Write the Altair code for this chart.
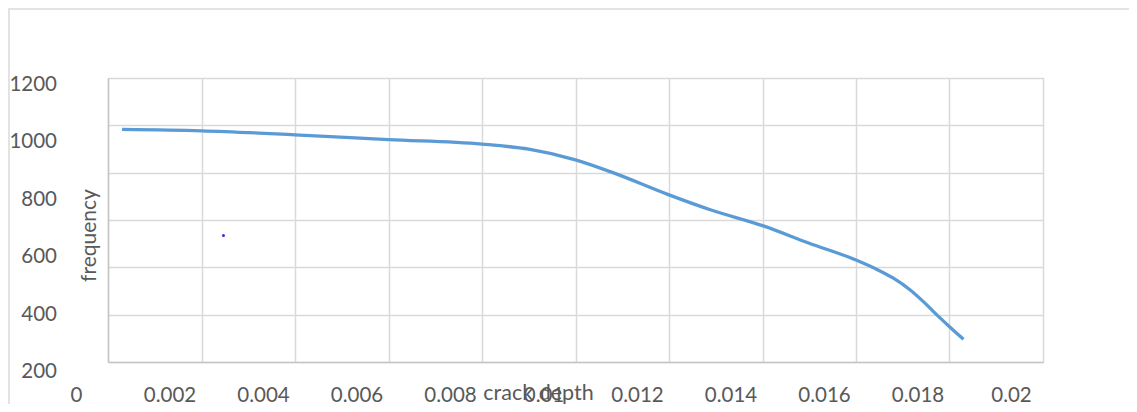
import altair as alt
import pandas as pd

# Series
crack_depth = [0.0003, 0.002, 0.004, 0.006, 0.008, 0.009, 0.010, 0.0108, 0.012,
               0.0129, 0.014, 0.015, 0.016, 0.01644, 0.0168, 0.01716, 0.01744,
               0.01773, 0.018, 0.0183]
frequency = [983, 977, 960, 940, 921, 899, 854, 800, 706,
             642, 576, 502, 431, 392, 354, 304, 255,
             199, 149, 96]

# stray point visible in the reference
stray_x = [0.00247]
stray_y = [534]

# tick values / labels
x_ticks = [0, 0.002, 0.004, 0.006, 0.008, 0.01, 0.012, 0.014, 0.016, 0.018, 0.02]
y_grid = [0, 200, 400, 600, 800, 1000, 1200]
y_labels = [1200, 1000, 800, 600, 400, 200]

FONT = "Lato"
LABEL_COLOR = "#595959"
W, H = 935, 284

df = pd.DataFrame({"crack depth": crack_depth, "frequency": frequency})
stray = pd.DataFrame({"crack depth": stray_x, "frequency": stray_y})
ylab = pd.DataFrame({"v": y_labels})

x_scale = alt.Scale(domain=[0, 0.02], nice=False, zero=False)
y_scale = alt.Scale(domain=[0, 1200], nice=False)

x_axis = alt.Axis(
    values=x_ticks, format="~g", title="crack depth",
    labelOffset=-32, labelPadding=33, labelBaseline="middle",
    ticks=False, tickSize=0, labelFlush=False, labelOverlap=False,
    labelFont=FONT, labelFontSize=20.5, labelColor=LABEL_COLOR,
    titleFont=FONT, titleFontSize=21.5, titleFontWeight="normal", titleColor=LABEL_COLOR,
    titleX=430, titleY=31, titleBaseline="middle", titleAnchor="middle",
    grid=True, gridColor="#d9d9d9", gridWidth=1.5,
    domainColor="#c6c6c6", domainWidth=1.5,
)
y_axis = alt.Axis(
    values=y_grid, labels=False, ticks=False, tickSize=0, title="frequency",
    titleFont=FONT, titleFontSize=21, titleFontWeight="normal", titleColor=LABEL_COLOR,
    titleX=-19, titleY=157, titleAngle=-90, titleBaseline="middle", titleAlign="center",
    grid=True, gridColor="#d9d9d9", gridWidth=1.5,
    domainColor="#c6c6c6", domainWidth=1.5,
)

line = alt.Chart(df).mark_line(
    color="#5b9bd5", strokeWidth=3.3, interpolate="monotone"
).encode(
    x=alt.X("crack depth:Q", scale=x_scale, axis=x_axis),
    y=alt.Y("frequency:Q", scale=y_scale, axis=y_axis),
)

dot = alt.Chart(stray).mark_point(
    filled=True, color="#2b2bff", size=9, opacity=1
).encode(
    x=alt.X("crack depth:Q", scale=x_scale),
    y=alt.Y("frequency:Q", scale=y_scale),
)

base = alt.layer(line, dot)

# y tick labels as drawn in the reference (spaced independently of the gridlines)
labels = alt.Chart(ylab).mark_text(
    align="right", baseline="middle", font=FONT, fontSize=20.5, color=LABEL_COLOR
).encode(
    x=alt.value(-51),
    y=alt.Y("v:Q", scale=alt.Scale(domain=[236.5, 1224.3], nice=False, zero=False), axis=None),
    text=alt.Text("v:Q", format="d"),
)

# faint outer chart border (top and left)
frame_top = alt.Chart(ylab).mark_rule(color="#e3e3e3", strokeWidth=2).encode(
    x=alt.value(-100), x2=alt.value(W + 90), y=alt.value(-69)
)
frame_left = alt.Chart(ylab).mark_rule(color="#e3e3e3", strokeWidth=2).encode(
    x=alt.value(-99), y=alt.value(-70), y2=alt.value(H + 60)
)

chart = alt.layer(base, labels, frame_top, frame_left).resolve_scale(
    y="independent"
).properties(
    width=W, height=H,
    autosize=alt.AutoSizeParams(type="none"),
    padding={"left": 100, "top": 70, "right": 86, "bottom": 42},
).configure_view(stroke=None).configure(background="white")

chart.save("out.html", embed_options={"renderer": "svg", "actions": False})
